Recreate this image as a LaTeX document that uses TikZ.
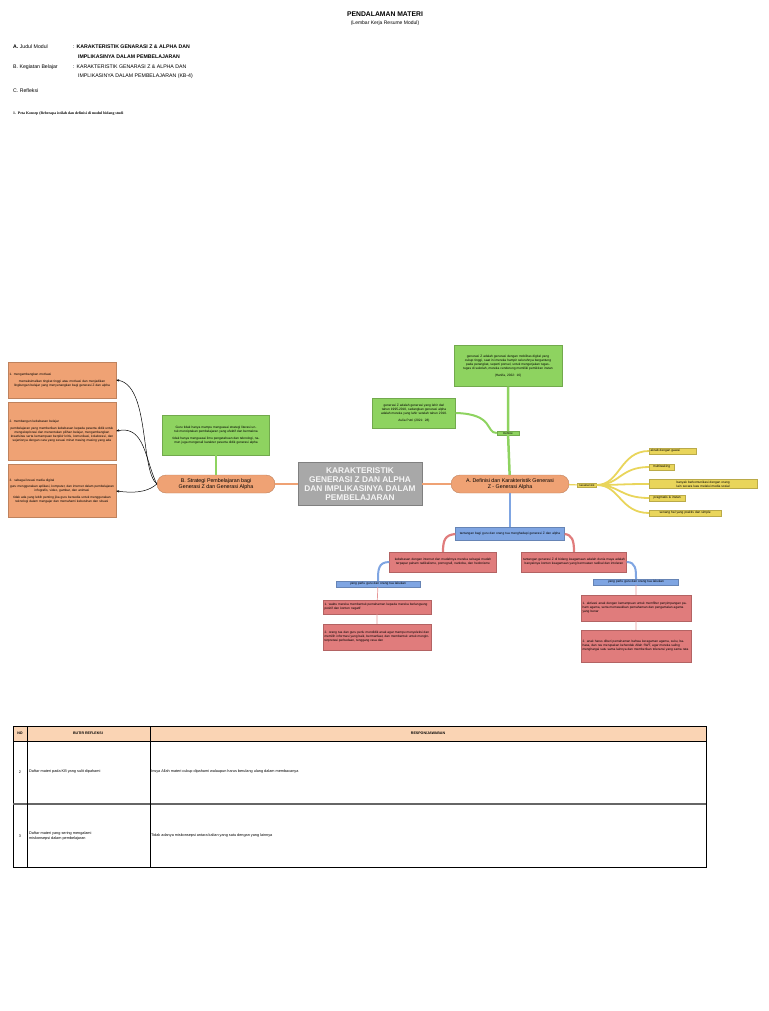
\documentclass[tikz,border=0pt]{standalone}
\usepackage{fontspec}
\setmainfont{Liberation Sans}
\newfontfamily\serifx{Liberation Serif}
\usetikzlibrary{arrows.meta}
\definecolor{org}{HTML}{EFA274}
\definecolor{grn}{HTML}{8ED360}
\definecolor{gry}{HTML}{A8A8A8}
\definecolor{rd}{HTML}{E07C7C}
\definecolor{blu}{HTML}{7FA5E2}
\definecolor{yel}{HTML}{E9D55B}
\definecolor{peach}{HTML}{FAD4B4}
\tikzset{
 tiny/.style={font=\fontsize{3.2}{3.9}\selectfont, align=center, inner sep=1.5pt},
 obox/.style={tiny, fill=org, draw=org!80!black, line width=0.3pt, text width=#1},
 gbox/.style={tiny, fill=grn, draw=grn!80!black, line width=0.3pt, text width=#1},
 rbox/.style={tiny, fill=rd, draw=rd!80!black, line width=0.3pt, text width=#1},
 bbox/.style={tiny, fill=blu, draw=blu!80!black, line width=0.3pt, text width=#1},
 ybox/.style={tiny, fill=yel, draw=yel!80!black, line width=0.3pt, text width=#1},
 pill/.style={fill=org, draw=org!80!black, rounded corners=9pt, minimum width=118pt, minimum height=18pt, font=\fontsize{5.3}{6}\selectfont, align=center, inner sep=1pt},
 hdr/.style={font=\fontsize{5.2}{6.5}\selectfont, anchor=west, inner sep=0},
}
\begin{document}
\begin{tikzpicture}[x=1pt,y=-1pt]
\useasboundingbox (0,0) rectangle (768,1011);
% header
\node[font=\fontsize{6.8}{8}\selectfont\bfseries] (t1) at (385,14) {PENDALAMAN MATERI};
\node[font=\fontsize{5}{6}\selectfont] (t2) at (385,23) {(Lembar Kerja Resume Modul)};
\node[hdr] (ha) at (13,47) {\textbf{A.} Judul Modul};
\node[hdr] (hac) at (73,47) {: \textbf{KARAKTERISTIK GENARASI Z \& ALPHA DAN}};
\node[hdr] (ha2) at (78,57) {\textbf{IMPLIKASINYA DALAM PEMBELAJARAN}};
\node[hdr] (hb) at (13,67) {B. Kegiatan Belajar};
\node[hdr] (hbc) at (73,67) {: KARAKTERISTIK GENARASI Z \& ALPHA DAN};
\node[hdr] (hb2) at (78,76) {IMPLIKASINYA DALAM PEMBELAJARAN (KB-4)};
\node[hdr] (hc) at (13,91) {C. Refleksi};
\node[hdr,font=\fontsize{3.8}{4.5}\selectfont\serifx\bfseries] (h1) at (13,114) {1.\ \ Peta Konsep (Beberapa istilah dan definisi di modul bidang studi};

% center
\node[fill=gry, draw=gray, minimum width=124pt, minimum height=43pt, align=center, font=\fontsize{8.3}{8.8}\selectfont\bfseries, text=white!92!gray, inner sep=1pt] (c) at (360,484) {KARAKTERISTIK\\GENERASI Z DAN ALPHA\\DAN IMPLIKASINYA DALAM\\PEMBELAJARAN};
\node[pill] (B) at (216,484) {B. Strategi Pembelajaran bagi\\Generasi Z dan Generasi Alpha};
\node[pill] (A) at (510,484) {A. Definisi dan Karakteristik Generasi\\Z - Generasi Alpha};
\draw[org, line width=2pt] (B) -- (c) (c) -- (A);

% left side
\node[gbox=104pt, minimum height=40pt] (g1) at (216,435) {Guru tidak hanya mampu menguasai strategi literasi untuk menciptakan pembelajaran yang efektif dan bermakna\\[3pt] tidak hanya menguasai ilmu pengetahuan dan teknologi, namun juga mengenali karakter peserta didik generasi alpha};
\draw[grn, line width=2.5pt] (g1) -- (B);
\node[obox=105pt, minimum height=36pt] (o1) at (62,380) {\raggedright 1. mengembangkan motivasi\\[3pt]\centering memaksimalkan tingkat tinggi atau motivasi dan menjadikan lingkungan belajar yang menyenangkan bagi generasi Z dan alpha};
\node[obox=105pt, minimum height=58pt] (o2) at (62,431) {\raggedright 2. membangun kebebasan belajar\\[3pt]\centering pembelajaran yang memberikan kebebasan kepada peserta didik untuk mengeksplorasi dan menentukan pilihan belajar, mengembangkan kreativitas serta kemampuan berpikir kritis, komunikasi, kolaborasi, dan sejenisnya dengan cara yang sesuai minat masing masing yang ada};
\node[obox=105pt, minimum height=53pt] (o3) at (62,491) {\raggedright 3.\ \ sebagai kreasi media digital\\[3pt]\centering guru menggunakan aplikasi, komputer, dan internet dalam pembelajaran infografis, video, gambar, dan animasi\\[3pt] tidak ada yang lebih penting jika guru bersedia untuk menggunakan teknologi dalam mengajar dan memahami kebutuhan dan situasi};
\draw[-{Stealth[length=3pt]}, line width=0.5pt] (B.west) .. controls (140,470) and (150,385) .. (o1.east);
\draw[-{Stealth[length=3pt]}, line width=0.5pt] (B.west) .. controls (145,460) and (145,425) .. (o2.east);
\draw[-{Stealth[length=3pt]}, line width=0.5pt] (B.west) .. controls (150,490) and (140,494) .. (o3.east);

% top green
\node[gbox=105pt, minimum height=41pt] (g2) at (508,366) {generasi Z adalah generasi dengan mobilitas digital yang cukup tinggi, saat ini mereka hampir seluruhnya bergantung pada perangkat, seperti ponsel, untuk mengerjakan tugas-tugas di sekolah, mereka cenderung memiliki pemikiran instan\\[3pt](Hanifa, 2022: 16)};
\node[gbox=80pt, minimum height=30pt] (g3) at (414,413) {generasi Z adalah generasi yang lahir dari tahun 1995-2010, sedangkan generasi alpha adalah mereka yang lahir setelah tahun 2010.\\[3pt] Aulia Putri (2021: 28)};
\node[gbox=20pt, font=\fontsize{2.8}{3}\selectfont, inner sep=1pt] (def) at (508,433) {Definisi};
\draw[grn, line width=2.5pt] (g2) -- (def) (def) -- (A);
\draw[grn, line width=2pt] (g3.east) .. controls (495,414) and (485,433) .. (def.west);

% yellow
\node[ybox=17pt, font=\fontsize{2.8}{3}\selectfont, inner sep=1pt] (k) at (587,485) {karakteristik};
\draw[yel, line width=1.2pt] (A) -- (k);
\node[ybox=44pt, align=left, anchor=west] (y1) at (649,451) {akrab dengan gawai};
\node[ybox=22pt, anchor=west] (y2) at (649,467) {multitasking};
\node[ybox=105pt, anchor=west] (y3) at (649,484) {banyak berkomunikasi dengan orang lain secara luas melalui media sosial};
\node[ybox=33pt, anchor=west] (y4) at (649,498) {pragmatis \& instan};
\node[ybox=69pt, anchor=west] (y5) at (649,513) {senang hal yang praktis dan simple};
\foreach \n in {y1,y2,y3,y4,y5}
  \draw[yel, line width=1.8pt] (k.east) .. controls (620,485) and (620,485|-\n.west) .. (\n.west);

% blue/red
\node[bbox=106pt, minimum height=13pt] (bl) at (510,534) {tantangan bagi guru dan orang tua menghadapi generasi Z dan alpha};
\draw[blu, line width=2.5pt] (A) -- (bl);
\node[rbox=104pt, minimum height=20pt] (r1) at (443,562) {kebebasan dengan internet dan mudahnya mereka sebagai mudah terpapar paham radikalisme, pornografi, narkoba, dan hedonisme};
\node[rbox=102pt, minimum height=20pt] (r2) at (574,562) {tantangan generasi Z di bidang keagamaan adalah dunia maya adalah banyaknya konten keagamaan yang bermuatan radikal dan intoleran};
\draw[rd, line width=2.2pt] (bl.west) .. controls (445,535) and (443,540) .. (r1.north);
\draw[rd, line width=2.2pt] (bl.east) .. controls (572,535) and (574,540) .. (r2.north);
\node[bbox=81pt] (b1) at (378,584) {yang perlu guru dan orang tua lakukan};
\node[bbox=82pt] (b2) at (636,582) {yang perlu guru dan orang tua lakukan};
\draw[blu, line width=2pt] (r1.west) .. controls (378,562) and (378,570) .. (b1.north);
\draw[blu, line width=2pt] (r2.east) .. controls (636,562) and (636,570) .. (b2.north);
\node[rbox=105pt, minimum height=14pt, align=left] (r3) at (377,607) {1. waktu mereka membentuk pemahaman kepada mereka berlangsung positif dan konten negatif};
\node[rbox=105pt, minimum height=26pt, align=left] (r4) at (377,637) {2. orang tua dan guru perlu mendidik anak agar mampu menyeleksi dan memilih informasi yang baik, bermanfaat, dan membentuk untuk menginterpretasi perbedaan, tenggang rasa dan};
\node[rbox=107pt, minimum height=26pt, align=left] (r5) at (636,608) {1. aktivasi anak dengan kemampuan untuk memfilter penyimpangan paham agama, serta memasukkan pemahaman dan pengamalan agama yang benar};
\node[rbox=107pt, minimum height=32pt, align=left] (r6) at (636,646) {2. anak harus diberi pemahaman bahwa keragaman agama, suku, bahasa, dan ras merupakan kehendak Allah SWT, agar mereka saling menghargai satu sama lainnya dan memberikan toleransi yang sama rata};
\draw[rd!80!white, line width=0.7pt] (b1) -- (r3) (r3) -- (r4) (b2) -- (r5) (r5) -- (r6);

% table
\fill[peach] (13,726) rectangle (706,741);
\draw[line width=0.6pt] (13,726) rectangle (706,867);
\draw[line width=0.6pt] (13,741) -- (706,741);
\draw[line width=1.4pt, gray!80!black] (13,804) -- (706,804);
\draw[line width=0.6pt] (27,726) -- (27,867) (150,726) -- (150,867);
\node[font=\fontsize{3.6}{4}\selectfont\bfseries] (tno) at (20,733.5) {NO};
\node[font=\fontsize{3.6}{4}\selectfont\bfseries] (tbr) at (88,733.5) {BUTIR REFLEKSI};
\node[font=\fontsize{3.6}{4}\selectfont\bfseries] (trj) at (428,733.5) {RESPON/JAWABAN};
\node[font=\fontsize{3.8}{4.5}\selectfont] (n2) at (20,772) {2};
\node[font=\fontsize{3.8}{4.5}\selectfont, anchor=west, inner sep=1pt] (q2) at (28,772) {Daftar materi pada KB yang sulit dipahami};
\node[font=\fontsize{3.8}{4.5}\selectfont, anchor=west, inner sep=1pt] (a2) at (150,772) {Insya Allah materi cukup dipahami walaupun harus berulang ulang dalam membacanya};
\node[font=\fontsize{3.8}{4.5}\selectfont] (n3) at (20,836) {3};
\node[font=\fontsize{3.8}{4.5}\selectfont, anchor=west, align=left, inner sep=1pt] (q3) at (28,836) {Daftar materi yang sering mengalami\\miskonsepsi dalam pembelajaran};
\node[font=\fontsize{3.8}{4.5}\selectfont, anchor=west, inner sep=1pt] (a3) at (150,836) {Tidak adanya miskonsepsi antara kalian yang satu dengan yang lainnya};
\end{tikzpicture}
\end{document}
